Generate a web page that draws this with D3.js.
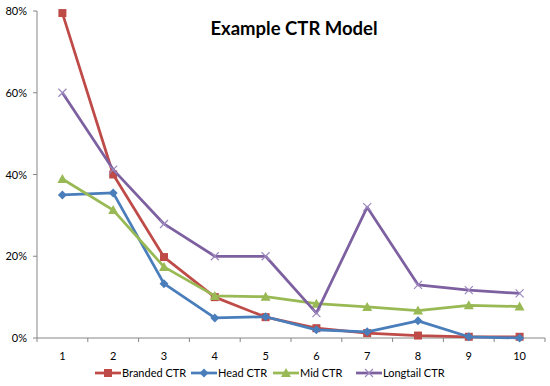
<!DOCTYPE html>
<html>
<head>
<meta charset="utf-8">
<script src="https://cdn.jsdelivr.net/npm/d3@7/dist/d3.min.js"></script>
<style>
  body { margin: 0; background: #fff; }
  svg { display: block; }
  text { font-family: Lato, "Open Sans", sans-serif; fill: #000; }
  .axisLine { stroke: #868686; stroke-width: 1; }
</style>
</head>
<body>
<div class="ctrChart"></div>
<script>
// ----- DATA ---------------------------------------------------------
const positions = [1, 2, 3, 4, 5, 6, 7, 8, 9, 10];
const brandedCtr = [79.5, 40, 19.8, 10, 5.1, 2.4, 1.2, 0.6, 0.3, 0.3];
const headCtr = [35, 35.5, 13.3, 4.9, 5.2, 2, 1.5, 4.2, 0.3, 0];
const midCtr = [38.9, 31.3, 17.4, 10.3, 10.1, 8.4, 7.6, 6.7, 8, 7.7];
const longtailCtr = [60, 41.2, 27.9, 20, 20, 6.1, 32, 13, 11.7, 10.9];
const yTicks = [0, 20, 40, 60, 80];

const series = [
    { name: "Branded CTR", values: brandedCtr, colour: "#BE4B48", marker: "square" },
    { name: "Head CTR", values: headCtr, colour: "#4A7EBB", marker: "diamond" },
    { name: "Mid CTR", values: midCtr, colour: "#98B954", marker: "triangle" },
    { name: "Longtail CTR", values: longtailCtr, colour: "#7D60A0", marker: "cross" }
];

const width = 550;
const height = 386;
const margin = { top: 11, right: 5, bottom: 48, left: 37 };

const svg = d3.select(".ctrChart").append("svg")
    .attr("width", width)
    .attr("height", height);

// scales work in page coordinates, so every text sits at its real place
const x = d3.scaleBand()
    .domain(positions)
    .range([margin.left, width - margin.right]);

const y = d3.scaleLinear()
    .domain([0, 80])
    .range([height - margin.bottom, margin.top]);

const cx = d => x(d) + x.bandwidth() / 2;

// title
svg.append("text")
    .attr("x", 294)
    .attr("y", 35)
    .attr("text-anchor", "middle")
    .style("font-size", "18.5px")
    .style("font-weight", "bold")
    .text("Example CTR Model");

// y axis
svg.append("line")
    .classed("axisLine", true)
    .attr("x1", margin.left).attr("x2", margin.left)
    .attr("y1", y(0)).attr("y2", y(80));
svg.selectAll(".yTick")
    .data(yTicks)
    .enter()
        .append("line")
        .classed("axisLine", true)
        .attr("x1", margin.left - 4).attr("x2", margin.left)
        .attr("y1", d => y(d)).attr("y2", d => y(d));
svg.selectAll(".yLabel")
    .data(yTicks)
    .enter()
        .append("text")
        .attr("x", margin.left - 10)
        .attr("y", d => y(d) + 4)
        .attr("text-anchor", "end")
        .style("font-size", "11px")
        .text(d => d + "%");

// x axis: ticks on the band edges, labels in the middle
svg.append("line")
    .classed("axisLine", true)
    .attr("x1", margin.left).attr("x2", width - margin.right)
    .attr("y1", y(0)).attr("y2", y(0));
svg.selectAll(".xTick")
    .data(positions.concat([null]))
    .enter()
        .append("line")
        .classed("axisLine", true)
        .attr("x1", (d, i) => margin.left + i * x.bandwidth())
        .attr("x2", (d, i) => margin.left + i * x.bandwidth())
        .attr("y1", y(0))
        .attr("y2", y(0) + 4);
svg.selectAll(".xLabel")
    .data(positions)
    .enter()
        .append("text")
        .attr("x", cx)
        .attr("y", y(0) + 22)
        .attr("text-anchor", "middle")
        .style("font-size", "11px")
        .text(d => d);

function drawMarker( g, type, colour )
{
    if (type === "square") {
        g.append("rect").attr("x", -4).attr("y", -4).attr("width", 8).attr("height", 8).attr("fill", colour);
    } else if (type === "diamond") {
        g.append("path").attr("d", "M0,-4.5L4.5,0L0,4.5L-4.5,0Z").attr("fill", colour);
    } else if (type === "triangle") {
        g.append("path").attr("d", "M0,-5L5,4L-5,4Z").attr("fill", colour);
    } else {
        g.append("path").attr("d", "M-4,-4L4,4M-4,4L4,-4").attr("stroke", "#9C88BD").attr("stroke-width", 1.2).attr("fill", "none");
    }
}

const line = d3.line()
    .x((d, i) => cx(positions[i]))
    .y(d => y(d));

series.forEach(s => {
    svg.append("path")
        .datum(s.values)
        .attr("fill", "none")
        .attr("stroke", s.colour)
        .attr("stroke-width", 2.75)
        .attr("stroke-linejoin", "round")
        .attr("d", line);

    s.values.forEach((v, i) => {
        const g = svg.append("g")
            .attr("transform", "translate(" + cx(positions[i]) + "," + y(v) + ")");
        drawMarker(g, s.marker, s.colour);
    });
});

// legend
const legendX = [95, 191, 273, 356];
const legendY = 373;
series.forEach((s, i) => {
    svg.append("line")
        .attr("x1", legendX[i]).attr("x2", legendX[i] + 26)
        .attr("y1", legendY).attr("y2", legendY)
        .attr("stroke", s.colour).attr("stroke-width", 2.75);
    drawMarker(svg.append("g").attr("transform", "translate(" + (legendX[i] + 13) + "," + legendY + ")"), s.marker, s.colour);
    svg.append("text")
        .attr("x", legendX[i] + 27)
        .attr("y", legendY + 4)
        .style("font-size", "11px")
        .text(s.name);
});
</script>
</body>
</html>
